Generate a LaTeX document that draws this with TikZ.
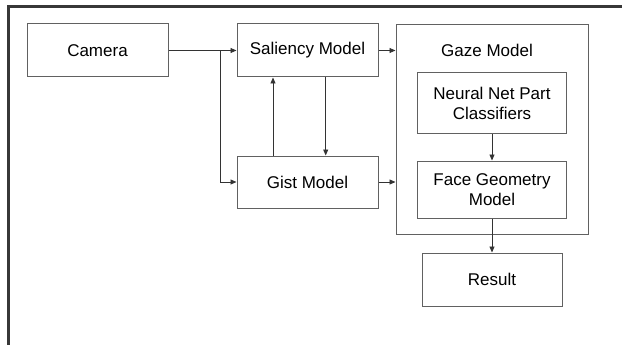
\documentclass[tikz,border=0pt]{standalone}
\usepackage{fontspec}
\setmainfont{Liberation Sans}
\usetikzlibrary{arrows.meta}
\begin{document}
\begin{tikzpicture}[x=1pt,y=-1pt,
  box/.style={draw=black!62,line width=1pt,inner sep=0pt,font=\fontsize{17}{19.5}\selectfont,align=center},
  conn/.style={draw=black!80,line width=0.9pt,-{Triangle[length=6pt,width=5pt]}},
  plain/.style={draw=black!80,line width=0.9pt}]
\useasboundingbox (0,0) rectangle (622,345);
\draw[black!78,line width=2.2pt] (8.5,345) -- (8.5,6.5) -- (622,6.5);
\node[box,minimum width=141pt,minimum height=53pt] (cam) at (97.5,50.5) {Camera};
\node[box,minimum width=141pt,minimum height=53pt] (sal) at (307.5,50.5) {Saliency Model};
\node[box,minimum width=141pt,minimum height=52pt] (gist) at (307.5,182) {Gist Model};
\node[box,minimum width=192pt,minimum height=210pt] (gaze) at (492,129.2) {};
\node[font=\fontsize{17}{19.5}\selectfont] (gazet) at (487,50.5) {Gaze Model};
\node[box,minimum width=149pt,minimum height=61pt] (nn) at (492,103.5) {Neural Net Part\\Classifiers};
\node[box,minimum width=149pt,minimum height=57pt] (face) at (492,189.5) {Face Geometry\\Model};
\node[box,minimum width=140pt,minimum height=53pt] (res) at (492,279.5) {Result};
\coordinate (br) at (220,50.5);
\draw[conn] (cam.east) -- (sal.west);
\draw[conn] (br) -- (220,182) -- (gist.west);
\draw[conn] (gist.north -| 273,0) -- (sal.south -| 273,0);
\draw[conn] (sal.south -| 325.7,0) -- (gist.north -| 325.7,0);
\draw[conn] (sal.east) -- (sal.east -| gaze.west);
\draw[conn] (gist.east) -- (gist.east -| gaze.west);
\draw[conn] (nn.south) -- (face.north);
\draw[conn] (face.south) -- (res.north);
\end{tikzpicture}
\end{document}
